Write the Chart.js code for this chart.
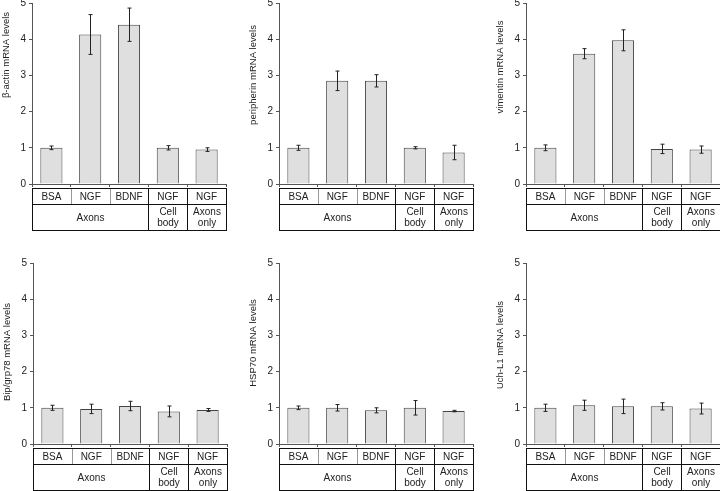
<!DOCTYPE html>
<html>
<head>
<meta charset="utf-8">
<script src="https://cdn.jsdelivr.net/npm/chart.js@4.4.1/dist/chart.umd.min.js"></script>
<style>
html, body { margin: 0; padding: 0; background: #fff; overflow: hidden; }
body { width: 720px; height: 491px; position: relative; font-family: "Liberation Sans", Arial, sans-serif; }
canvas { position: absolute; }
</style>
</head>
<body>
<canvas id="c0"></canvas>
<canvas id="c1"></canvas>
<canvas id="c2"></canvas>
<canvas id="c3"></canvas>
<canvas id="c4"></canvas>
<canvas id="c5"></canvas>
<script>
// categories along x, and the grouping row of the table under each chart
const categories = ['BSA', 'NGF', 'BDNF', 'NGF', 'NGF'];
const groupLabels = [['Axons'], ['Cell', 'body'], ['Axons', 'only']];
const groupSpans = [3, 1, 1];
const yTicks = [0, 1, 2, 3, 4, 5];

// y axis titles
const titles = [
    'β-actin mRNA levels',
    'peripherin mRNA levels',
    'vimentin mRNA levels',
    'Bip/grp78 mRNA levels',
    'HSP70 mRNA levels',
    'Uch-L1 mRNA levels'
];

// mean values and error (+/-)
const actinMean = [1.0, 4.13, 4.40, 1.0, 0.95];
const actinErr = [0.05, 0.55, 0.46, 0.06, 0.05];
const peripherinMean = [1.0, 2.85, 2.85, 1.0, 0.87];
const peripherinErr = [0.07, 0.27, 0.17, 0.03, 0.20];
const vimentinMean = [1.0, 3.60, 3.97, 0.97, 0.95];
const vimentinErr = [0.08, 0.14, 0.29, 0.13, 0.10];
const bipMean = [1.0, 0.97, 1.05, 0.90, 0.94];
const bipErr = [0.07, 0.13, 0.13, 0.15, 0.04];
const hspMean = [1.0, 1.0, 0.93, 1.0, 0.91];
const hspErr = [0.05, 0.09, 0.07, 0.20, 0.02];
const uchMean = [1.0, 1.07, 1.04, 1.04, 0.98];
const uchErr = [0.10, 0.14, 0.20, 0.10, 0.15];

const means = [actinMean, peripherinMean, vimentinMean, bipMean, hspMean, uchMean];
const errs = [actinErr, peripherinErr, vimentinErr, bipErr, hspErr, uchErr];

// where each panel sits on the page
const panelLeft = [0, 240, 480, 0, 240, 480];
const panelTop = [0, 0, 0, 258, 258, 258];
const padLeft = [0, 7, 14, 1, 7, 14];
const padTop = [3, 3, 3, 5, 5, 5];
// centre of the y title, measured down from the top of the plot
const titleMid = [52, 72, 64, 89, 80, 82];

const FONT = '"Liberation Sans", Arial, sans-serif';
const AXIS_W = 32;
const PLOT_W = 194;
const PLOT_H = 181;
const TABLE_H = 50;

// error bars drawn with the y scale
const errorBarPlugin = {
    id: 'errorBars',
    afterDatasetsDraw(chart) {
        const ctx = chart.ctx;
        const y = chart.scales.y;
        const meta = chart.getDatasetMeta(0);
        const e = chart.options.plugins.errorBars.values;
        const m = chart.data.datasets[0].data;
        ctx.save();
        ctx.strokeStyle = '#222';
        ctx.lineWidth = 1;
        meta.data.forEach((bar, i) => {
            const xc = Math.round(bar.x) + 0.5;
            const yHi = y.getPixelForValue(m[i] + e[i]);
            const yLo = y.getPixelForValue(m[i] - e[i]);
            ctx.beginPath();
            ctx.moveTo(xc, yHi);
            ctx.lineTo(xc, yLo);
            ctx.moveTo(xc - 2, yHi);
            ctx.lineTo(xc + 2, yHi);
            ctx.moveTo(xc - 2, yLo);
            ctx.lineTo(xc + 2, yLo);
            ctx.stroke();
        });
        ctx.restore();
    }
};

// rotated y title, placed like the original figure
const yTitlePlugin = {
    id: 'yTitle',
    afterDraw(chart) {
        const o = chart.options.plugins.yTitle;
        const ctx = chart.ctx;
        const area = chart.chartArea;
        ctx.save();
        ctx.translate(area.left - 26, area.top + o.mid);
        ctx.rotate(-Math.PI / 2);
        ctx.fillStyle = '#222';
        ctx.font = '9.5px ' + FONT;
        ctx.textAlign = 'center';
        ctx.textBaseline = 'middle';
        ctx.fillText(o.text, 0, 0);
        ctx.restore();
    }
};

// the two-row table below the x axis
const tablePlugin = {
    id: 'catTable',
    afterDraw(chart) {
        const ctx = chart.ctx;
        const x = chart.scales.x;
        const n = categories.length;
        const step = x.getPixelForValue(1) - x.getPixelForValue(0);
        const edge = i => Math.round(x.getPixelForValue(0) - step / 2 + i * step) + 0.5;
        const top = Math.round(x.top) + 4.5;
        const mid = top + 16;
        const bot = top + 42;

        ctx.save();
        // light dividers inside a group (top row only)
        ctx.strokeStyle = '#999';
        ctx.lineWidth = 1;
        let start = 0;
        groupSpans.forEach(span => {
            for (let k = 1; k < span; k++) {
                ctx.beginPath();
                ctx.moveTo(edge(start + k), top);
                ctx.lineTo(edge(start + k), mid);
                ctx.stroke();
            }
            start += span;
        });
        // frame and group dividers
        ctx.strokeStyle = '#111';
        ctx.strokeRect(edge(0), top, edge(n) - edge(0), bot - top);
        ctx.beginPath();
        ctx.moveTo(edge(0), mid);
        ctx.lineTo(edge(n), mid);
        ctx.stroke();
        start = 0;
        groupSpans.forEach((span, g) => {
            if (g > 0) {
                ctx.beginPath();
                ctx.moveTo(edge(start), top);
                ctx.lineTo(edge(start), bot);
                ctx.stroke();
            }
            start += span;
        });

        // text
        ctx.fillStyle = '#222';
        ctx.font = '10px ' + FONT;
        ctx.textAlign = 'center';
        ctx.textBaseline = 'middle';
        categories.forEach((c, i) => {
            ctx.fillText(c, x.getPixelForValue(i), (top + mid) / 2 + 0.5);
        });
        start = 0;
        groupSpans.forEach((span, g) => {
            const cx = (edge(start) + edge(start + span)) / 2;
            const lines = groupLabels[g];
            const cy = (mid + bot) / 2;
            lines.forEach((t, j) => {
                ctx.fillText(t, cx, cy + (j - (lines.length - 1) / 2) * 11 + 0.5);
            });
            start += span;
        });
        ctx.restore();
    }
};

function makeChart(i) {
    const canvas = document.getElementById('c' + i);
    const w = 240;
    const h = padTop[i] + PLOT_H + TABLE_H;
    canvas.width = w;
    canvas.height = h;
    canvas.style.left = panelLeft[i] + 'px';
    canvas.style.top = panelTop[i] + 'px';
    canvas.style.width = w + 'px';
    canvas.style.height = h + 'px';

    return new Chart(canvas, {
        type: 'bar',
        data: {
            labels: categories,
            datasets: [{
                data: means[i],
                backgroundColor: '#dfdfdf',
                borderColor: '#444',
                borderWidth: 1,
                borderSkipped: 'bottom',
                barPercentage: 0.57,
                categoryPercentage: 1.0
            }]
        },
        plugins: [errorBarPlugin, yTitlePlugin, tablePlugin],
        options: {
            responsive: false,
            animation: false,
            devicePixelRatio: 1,
            layout: {
                padding: {
                    left: padLeft[i],
                    right: w - padLeft[i] - AXIS_W - PLOT_W,
                    top: padTop[i],
                    bottom: 0
                }
            },
            plugins: {
                legend: { display: false },
                tooltip: { enabled: false },
                errorBars: { values: errs[i] },
                yTitle: { text: titles[i], mid: titleMid[i] }
            },
            scales: {
                x: {
                    grid: {
                        offset: true,
                        drawOnChartArea: false,
                        drawTicks: true,
                        tickLength: 3,
                        color: '#555'
                    },
                    border: { color: '#555', width: 1 },
                    ticks: { display: false },
                    afterFit: s => {
                        s.height = TABLE_H;
                        s.paddingLeft = 0;
                        s.paddingRight = 0;
                    }
                },
                y: {
                    min: yTicks[0],
                    max: yTicks[yTicks.length - 1],
                    afterBuildTicks: s => {
                        s.ticks = yTicks.map(v => ({ value: v }));
                    },
                    grid: {
                        drawOnChartArea: false,
                        drawTicks: true,
                        tickLength: 3,
                        color: '#555'
                    },
                    border: { color: '#555', width: 1 },
                    ticks: {
                        padding: 3,
                        color: '#222',
                        font: { family: FONT, size: 10 }
                    },
                    afterFit: s => {
                        s.width = AXIS_W;
                        s.paddingTop = 0;
                        s.paddingBottom = 0;
                    }
                }
            }
        }
    });
}

for (let i = 0; i < 6; i++) makeChart(i);
</script>
</body>
</html>
